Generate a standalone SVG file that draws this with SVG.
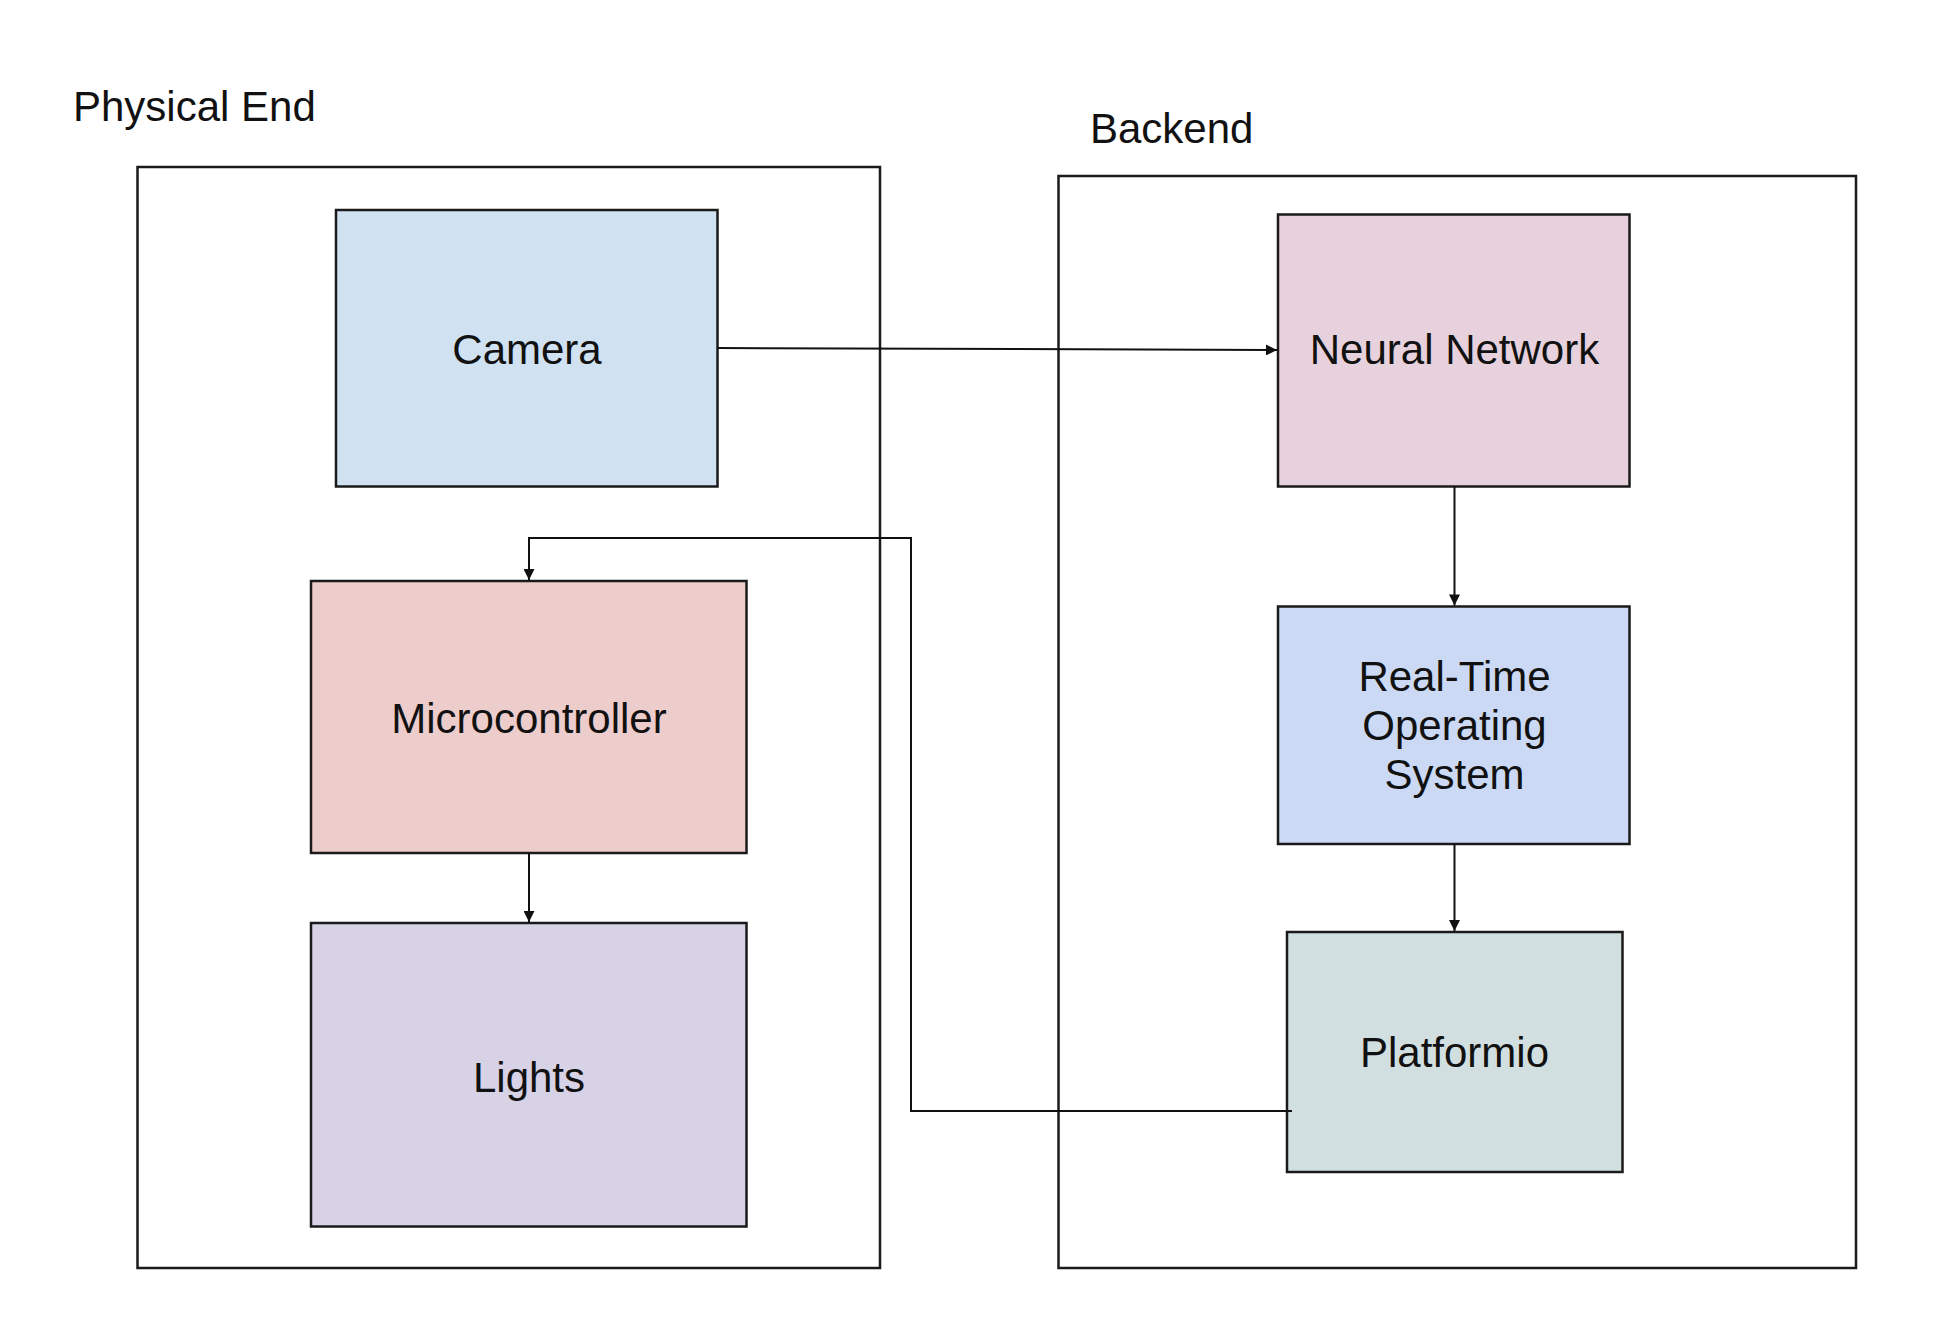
<svg xmlns="http://www.w3.org/2000/svg" width="1944" height="1342" viewBox="0 0 1944 1342">
<defs>
<style>
.t{font-family:"Liberation Sans",Arial,sans-serif;font-size:42px;fill:#111;}
.c{text-anchor:middle;}
.box{stroke:#1a1a1a;stroke-width:2.5;}
.frame{fill:none;stroke:#1a1a1a;stroke-width:2.5;}
.ln{fill:none;stroke:#111;stroke-width:2;}
</style>
<marker id="ah" viewBox="0 0 10 10" refX="10" refY="5" markerWidth="13" markerHeight="11" markerUnits="userSpaceOnUse" orient="auto">
<path d="M0,0 L10,5 L0,10 Z" fill="#111"/>
</marker>
</defs>
<rect width="1944" height="1342" fill="#fff"/>
<g id="physical-end">
<rect class="frame" x="137.5" y="167" width="742.5" height="1101"/>
<text class="t" x="73" y="121">Physical End</text>
</g>
<g id="backend">
<rect class="frame" x="1058.5" y="176" width="797.5" height="1092"/>
<text class="t" x="1090" y="143">Backend</text>
</g>
<g id="camera">
<rect class="box" x="336" y="210" width="381.5" height="276.5" fill="#d0e1f1"/>
<text class="t c" x="527" y="364">Camera</text>
</g>
<g id="microcontroller">
<rect class="box" x="311" y="581" width="435.5" height="272" fill="#edcccc"/>
<text class="t c" x="529" y="733">Microcontroller</text>
</g>
<g id="lights">
<rect class="box" x="311" y="923" width="435.5" height="303.5" fill="#d8d2e7"/>
<text class="t c" x="529" y="1092">Lights</text>
</g>
<g id="neural-network">
<rect class="box" x="1278" y="214.5" width="351.5" height="272" fill="#e6d1dc"/>
<text class="t c" x="1454.5" y="364">Neural Network</text>
</g>
<g id="rtos">
<rect class="box" x="1278" y="606.5" width="351.5" height="237.5" fill="#cbd9f4"/>
<text class="t c" x="1454.5" y="691">Real-Time</text>
<text class="t c" x="1454.5" y="740">Operating</text>
<text class="t c" x="1454.5" y="789">System</text>
</g>
<g id="platformio">
<rect class="box" x="1287" y="932" width="335.5" height="240" fill="#d2dfe1"/>
<text class="t c" x="1454.5" y="1067">Platformio</text>
</g>
<g id="connectors">
<path class="ln" d="M717.5,348 L1277,350" marker-end="url(#ah)"/>
<path class="ln" d="M1454.5,486.5 L1454.5,605.5" marker-end="url(#ah)"/>
<path class="ln" d="M1454.5,844 L1454.5,931" marker-end="url(#ah)"/>
<path class="ln" d="M529,853 L529,922" marker-end="url(#ah)"/>
<path class="ln" d="M1292,1111 L911,1111 L911,538 L529,538 L529,580" marker-end="url(#ah)"/>
</g>
</svg>
